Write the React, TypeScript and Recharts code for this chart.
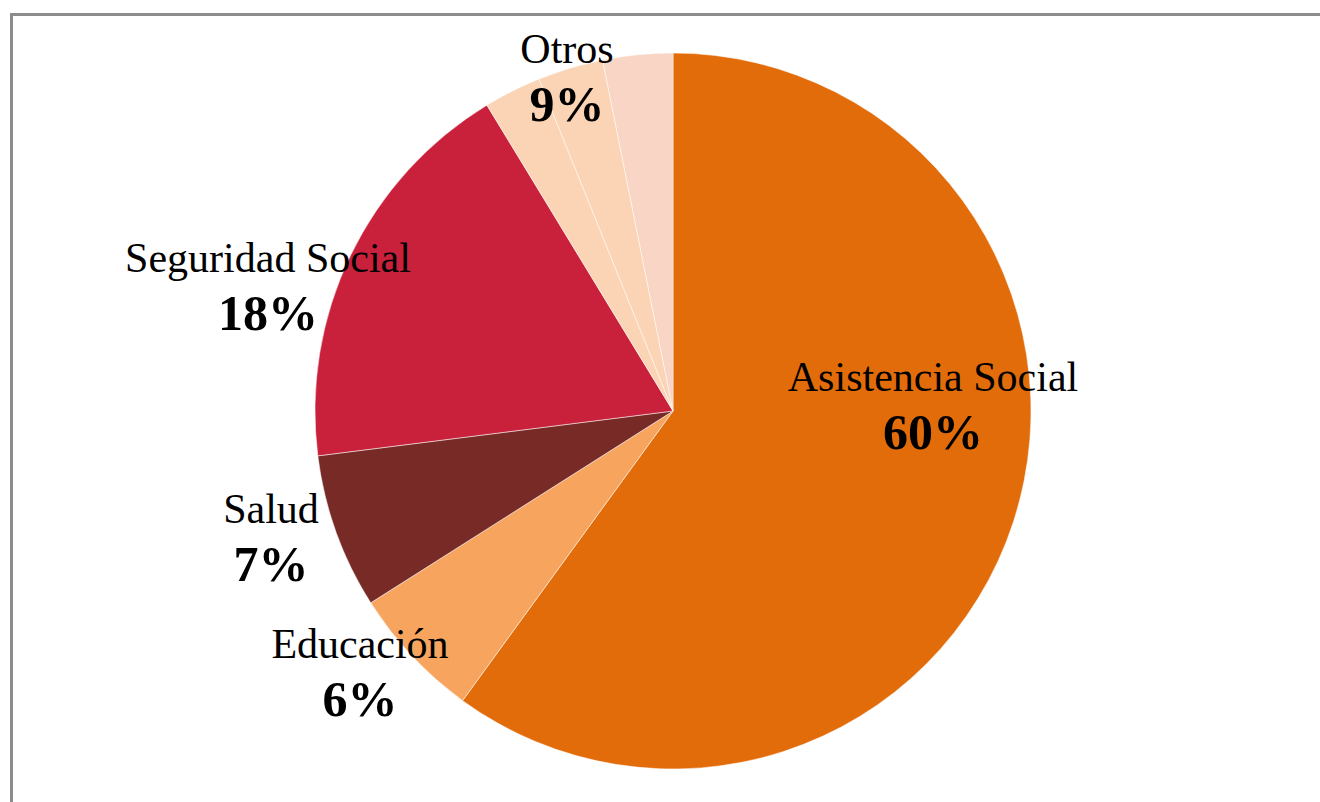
import { PieChart, Pie, Cell } from "recharts";

// spending by function, percent of total
const categories = ["Asistencia Social", "Educación", "Salud", "Seguridad Social", "Otros"];
const values = [60, 6, 7, 18.3];
// "Otros" is drawn as three thin sub-slices
const otrosParts = [2.6, 2.95, 3.15];

const COLORS = ["#E36C0A", "#F7A55E", "#772A26", "#C9213B"];
const OTROS_COLORS = ["#FAD4B4", "#FAD4B4", "#F8D5C5"];

// label placement relative to pie centre (layout only)
const LABEL_POS: Record<string, { dx: number; dy: number }> = {
  "Asistencia Social": { dx: 260, dy: -20 },
  "Educación": { dx: -313, dy: 247 },
  "Salud": { dx: -402, dy: 112 },
  "Seguridad Social": { dx: -405, dy: -139 },
  "Otros": { dx: -106, dy: -348 },
};

const total = values.reduce((a, b) => a + b, 0) + otrosParts.reduce((a, b) => a + b, 0);

const data = [
  ...values.map((v, i) => ({ name: categories[i], value: v, fill: COLORS[i], group: categories[i], first: true })),
  ...otrosParts.map((v, i) => ({ name: `Otros ${i + 1}`, value: v, fill: OTROS_COLORS[i], group: "Otros", first: i === 0 })),
];

const groupPct = (g: string) =>
  Math.round((data.filter((d) => d.group === g).reduce((a, d) => a + d.value, 0) / total) * 100);

const renderLabel = (props: any) => {
  const { cx, cy, payload, index } = props;
  const p = payload?.payload ?? payload;
  if (!p || !p.first) return null;
  const pos = LABEL_POS[p.group];
  const x = cx + pos.dx;
  const y = cy + pos.dy;
  return (
    <g key={`lbl-${index}`}>
      <text x={x} y={y} textAnchor="middle" fontFamily="'Liberation Serif', 'Times New Roman', serif" fontSize={42} fill="#000">
        {p.group}
      </text>
      <text x={x} y={y + 58} textAnchor="middle" fontFamily="'Liberation Serif', 'Times New Roman', serif" fontSize={50} fontWeight="bold" fill="#000">
        {groupPct(p.group)}%
      </text>
    </g>
  );
};

export default function App() {
  return (
    <div style={{ position: "absolute", left: 0, top: 0, width: 1320, height: 802, overflow: "hidden", background: "#fff" }}>
      <div
        style={{
          position: "absolute",
          left: 10,
          top: 13,
          width: 1400,
          height: 900,
          border: "3px solid #8c8c8c",
        }}
      />
      <div style={{ position: "absolute", left: 0, top: 0 }}>
        <PieChart width={1320} height={802} margin={{ top: 0, right: 0, bottom: 0, left: 0 }}>
          <Pie
            data={data}
            dataKey="value"
            nameKey="name"
            cx={673}
            cy={411}
            outerRadius={358}
            startAngle={90}
            endAngle={-270}
            stroke="#ffffff"
            strokeWidth={0.5}
            labelLine={false}
            label={renderLabel}
            isAnimationActive={false}
          >
            {data.map((d, i) => (
              <Cell key={i} fill={d.fill} />
            ))}
          </Pie>
        </PieChart>
      </div>
    </div>
  );
}
